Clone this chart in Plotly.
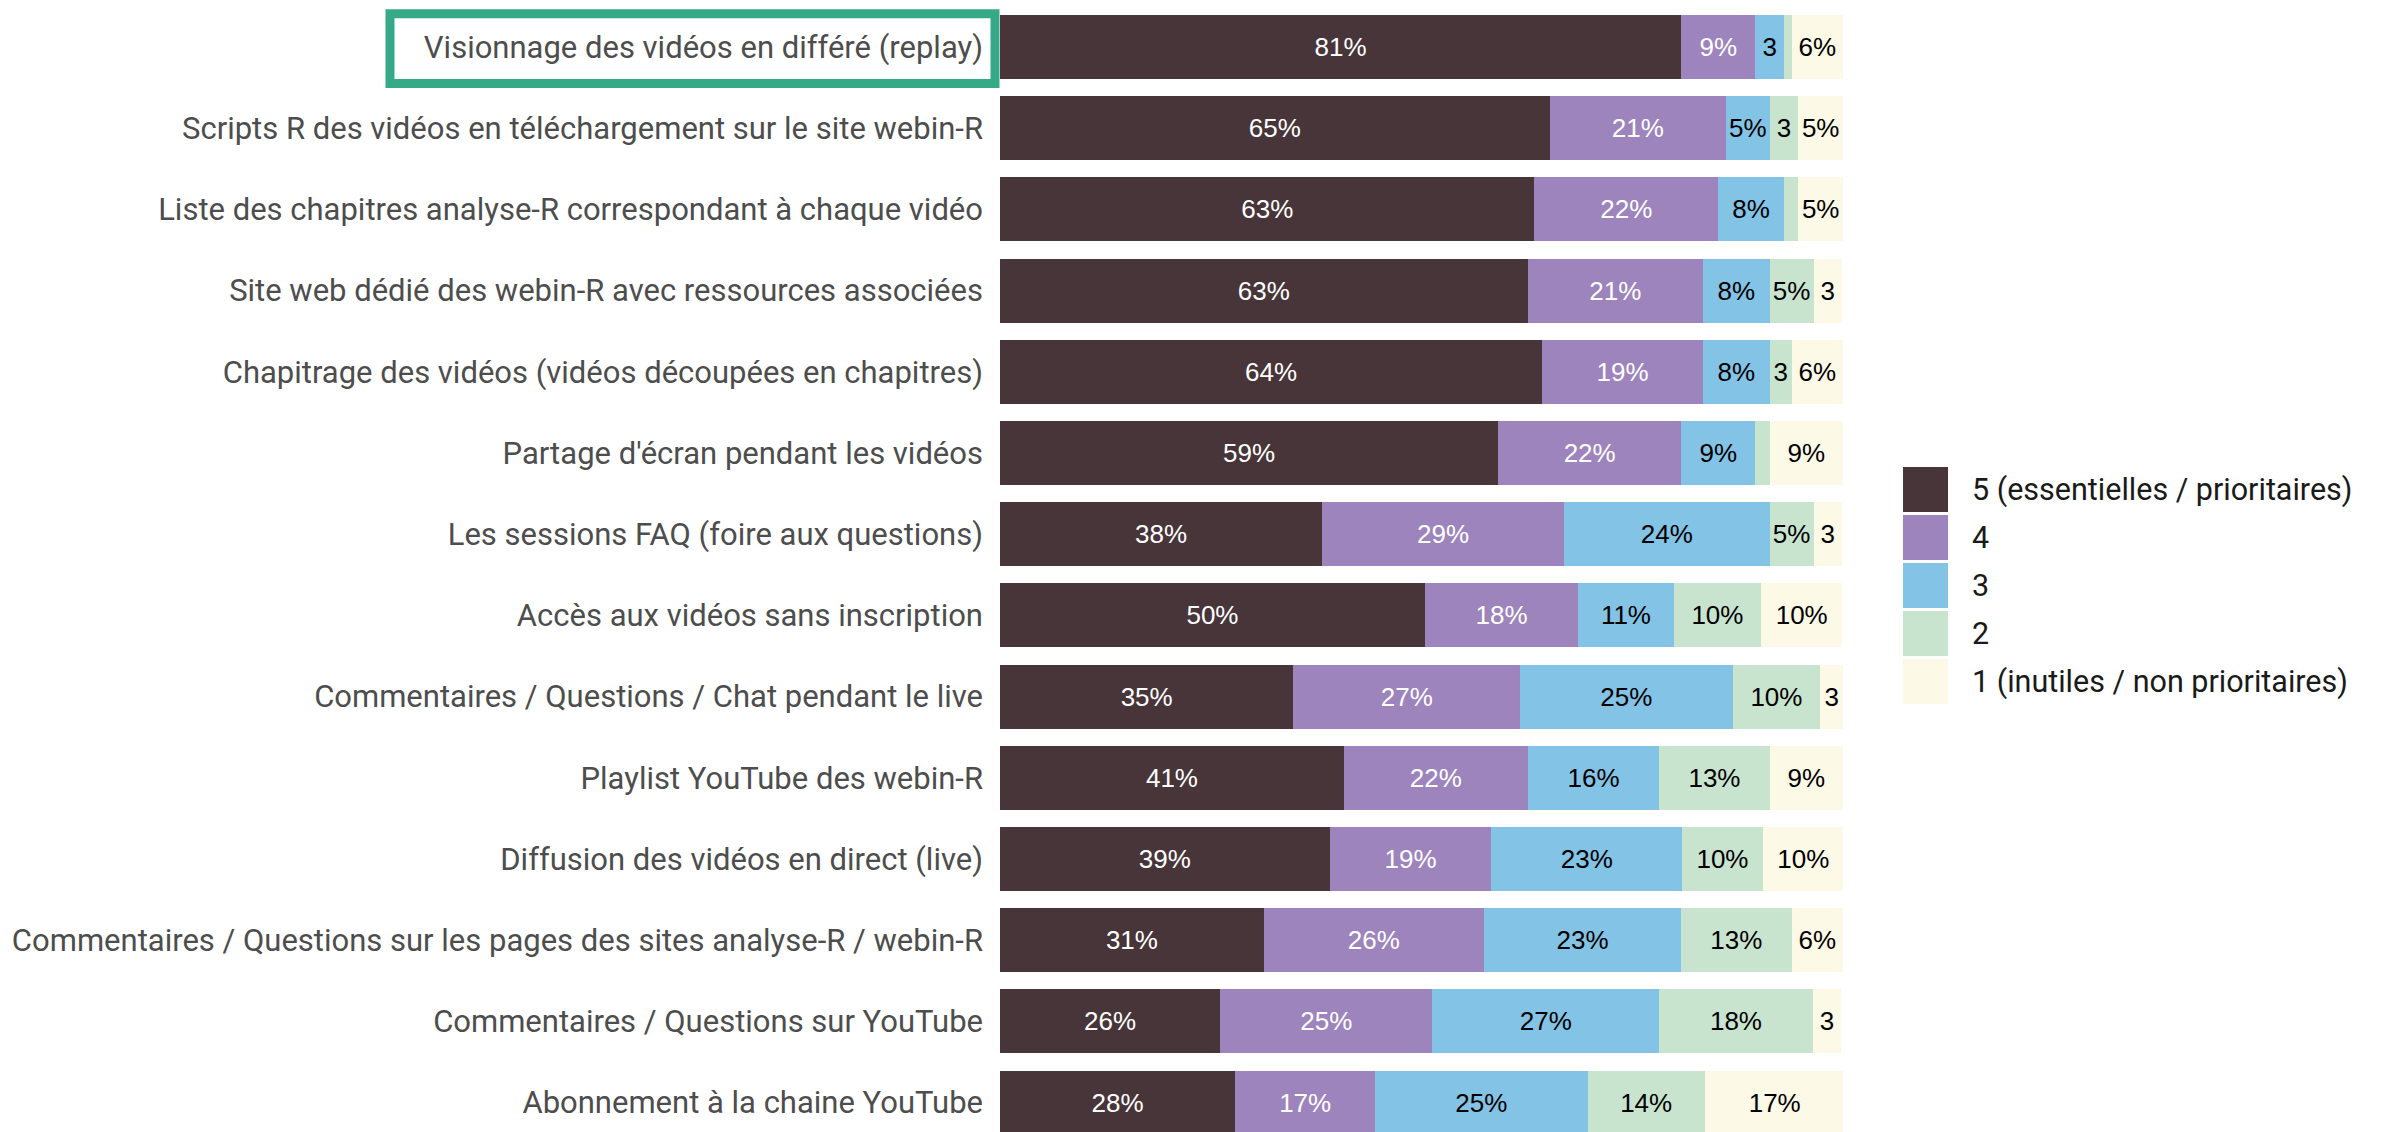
import plotly.graph_objects as go

categories = [
    "Visionnage des vidéos en différé (replay)",
    "Scripts R des vidéos en téléchargement sur le site webin-R",
    "Liste des chapitres analyse-R correspondant à chaque vidéo",
    "Site web dédié des webin-R avec ressources associées",
    "Chapitrage des vidéos (vidéos découpées en chapitres)",
    "Partage d'écran pendant les vidéos",
    "Les sessions FAQ (foire aux questions)",
    "Accès aux vidéos sans inscription",
    "Commentaires / Questions / Chat pendant le live",
    "Playlist YouTube des webin-R",
    "Diffusion des vidéos en direct (live)",
    "Commentaires / Questions sur les pages des sites analyse-R / webin-R",
    "Commentaires / Questions sur YouTube",
    "Abonnement à la chaine YouTube",
]

levels = ["5 (essentielles / prioritaires)", "4", "3", "2", "1 (inutiles / non prioritaires)"]
colors = ["#473539", "#9d84bc", "#82c3e6", "#c8e4cf", "#fdf9e7"]
text_colors = ["#ffffff", "#ffffff", "#000000", "#000000", "#000000"]

v5 = [80.8, 65.2, 63.4, 62.6, 64.3, 59.1, 38.2, 50.4, 34.8, 40.8, 39.1, 31.3, 26.1, 27.9]
v4 = [8.8, 20.9, 21.8, 20.8, 19.1, 21.7, 28.7, 18.2, 26.9, 21.8, 19.2, 26.1, 25.2, 16.6]
v3 = [3.4, 5.2, 7.8, 7.9, 7.9, 8.8, 24.4, 11.3, 25.2, 15.6, 22.6, 23.4, 26.9, 25.2]
v2 = [0.9, 3.4, 1.7, 5.2, 2.6, 1.7, 5.2, 10.4, 10.4, 13.1, 9.6, 13.1, 18.2, 13.9]
v1 = [6.1, 5.3, 5.3, 3.4, 6.1, 8.7, 3.4, 9.6, 2.7, 8.7, 9.6, 6.1, 3.4, 16.6]
series = [v5, v4, v3, v2, v1]


def lab(v):
    r = round(v)
    if r >= 5:
        return f"{r}%"
    if r >= 3:
        return str(r)
    return ""


W, H = 2387, 1132
OFF = 8  # page body margin
L, R = 1000 - OFF, 1843 - OFF
PITCH = 81.2
C0 = 47 - OFF  # centre of first bar in figure pixels

fig = go.Figure()
for name, vals, col, tcol in zip(levels, series, colors, text_colors):
    fig.add_trace(go.Bar(
        y=categories, x=vals, name=name, orientation="h",
        marker=dict(color=col, line=dict(width=0)),
        text=[lab(v) for v in vals],
        textposition="inside", insidetextanchor="middle", textangle=0,
        textfont=dict(family="Liberation Sans, Arial", size=26, color=tcol),
        showlegend=False,
    ))

# highlight box around first label
fig.add_shape(type="rect", xref="paper", yref="y",
              x0=(390 - OFF - L) / (R - L), x1=(995 - OFF - L) / (R - L), y0=-0.41, y1=0.45,
              line=dict(color="#36a987", width=9), fillcolor="rgba(0,0,0,0)", layer="above")

# manual legend
for i, (name, col) in enumerate(zip(levels, colors)):
    top = 467 - OFF + i * 48
    fig.add_shape(type="rect", xref="paper", yref="paper",
                  x0=(1903 - OFF - L) / (R - L), x1=(1948 - OFF - L) / (R - L),
                  y0=1 - (top + 45) / H, y1=1 - top / H,
                  fillcolor=col, line=dict(width=0))
    fig.add_annotation(xref="paper", yref="paper", x=(1970 - OFF - L) / (R - L),
                       y=1 - (top + 22.5) / H, text=name, showarrow=False,
                       xanchor="left", yanchor="middle",
                       font=dict(family="Roboto", size=30.5, color="#1a1a1a"))

fig.update_layout(
    barmode="stack", bargap=0.21,
    width=W, height=H,
    margin=dict(l=L, r=W - R, t=0, b=0),
    paper_bgcolor="white", plot_bgcolor="white",
    uniformtext=dict(minsize=26, mode="show"),
    font=dict(family="Roboto"),
)
fig.update_xaxes(range=[0, 100], visible=False, showgrid=False, zeroline=False)
fig.update_yaxes(categoryorder="array", categoryarray=categories,
                 range=[(H - C0) / PITCH, -C0 / PITCH], showgrid=False, zeroline=False, ticks="",
                 ticklabelstandoff=16,
                 tickfont=dict(family="Roboto", size=31, color="#4d4d4d"))

fig.write_html("out.html")
